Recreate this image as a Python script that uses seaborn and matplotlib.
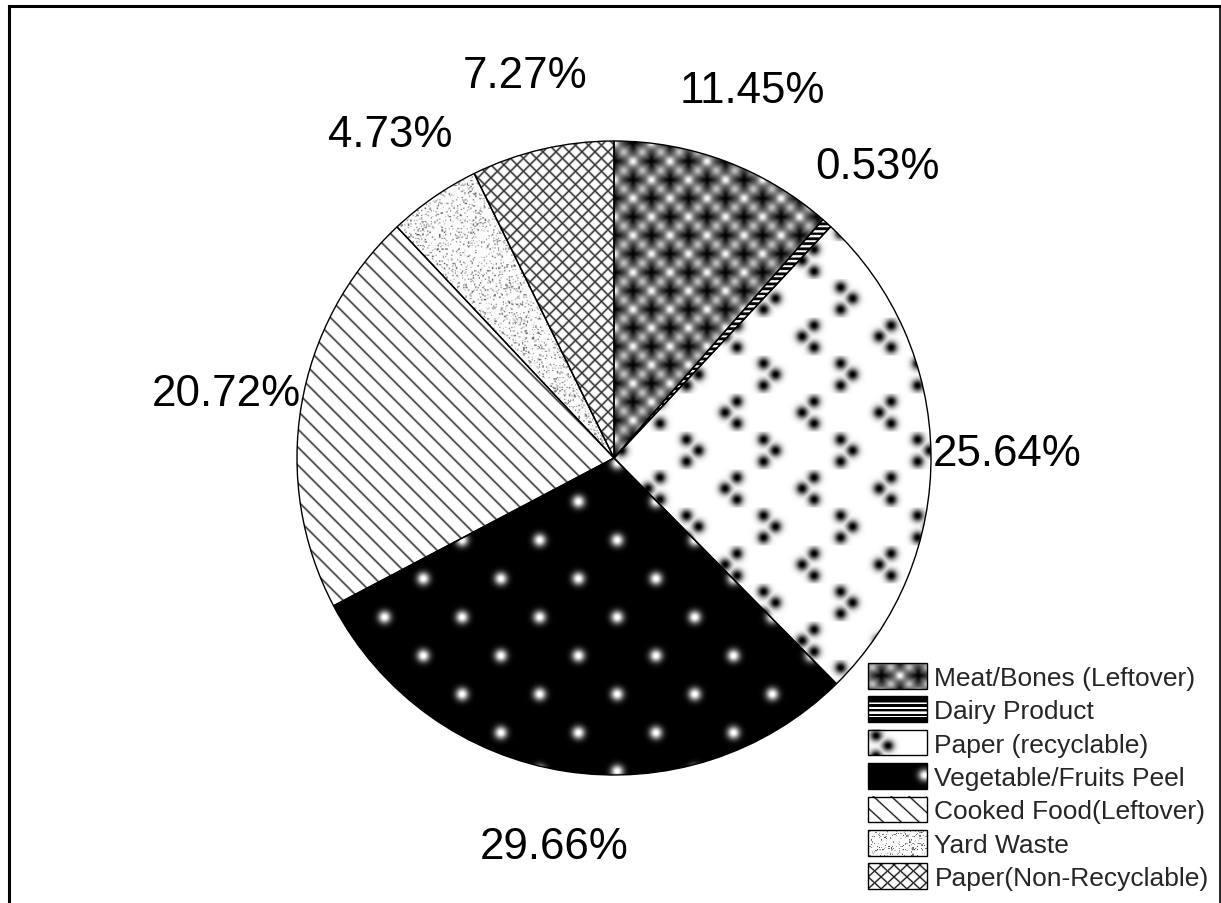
import numpy as np
import matplotlib
matplotlib.use("Agg")
import matplotlib.pyplot as plt
import seaborn as sns
from matplotlib.colors import Normalize
from matplotlib.image import BboxImage
from matplotlib.legend_handler import HandlerBase
from matplotlib.lines import Line2D
from matplotlib.patches import Rectangle
from matplotlib.transforms import Bbox, TransformedBbox

# ---- data -------------------------------------------------------------
categories = [
    "Meat/Bones (Leftover)",
    "Dairy Product",
    "Paper (recyclable)",
    "Vegetable/Fruits Peel",
    "Cooked Food(Leftover)",
    "Yard Waste",
    "Paper(Non-Recyclable)",
]
shares = [11.45, 0.53, 25.64, 29.66, 20.72, 4.73, 7.27]

# ---- style ------------------------------------------------------------
sns.set_theme(style="white")
plt.rcParams["font.family"] = ["Liberation Sans", "DejaVu Sans"]

W, H, DPI = 1221, 904, 100
R_PX = 317.0          # pie radius in pixels
CX, CY = 614.0, 459.0  # pie centre in pixels (from top-left)


# ---- grayscale fill textures, defined on pixel coordinates (y up) ------
def tex_meat(X, Y):
    a = 37.0
    def cross(dx, dy):
        h = np.exp(-(dx**2 / (2 * 6.5**2) + dy**2 / (2 * 2.6**2)))
        v = np.exp(-(dx**2 / (2 * 2.6**2) + dy**2 / (2 * 6.5**2)))
        return np.maximum(h, v)
    dx1 = (X + a / 2) % a - a / 2
    dy1 = (Y + a / 2) % a - a / 2
    dx2 = X % a - a / 2
    dy2 = Y % a - a / 2
    dark = np.maximum(cross(dx1, dy1), cross(dx2, dy2))
    # bright spots between the crosses
    ba = np.exp(-(((X % a) - a / 2) ** 2 + (((Y + a / 2) % a) - a / 2) ** 2) / (2 * 3.4**2))
    bb = np.exp(-((((X + a / 2) % a) - a / 2) ** 2 + ((Y % a) - a / 2) ** 2) / (2 * 3.4**2))
    bc = np.exp(-(((X % (a / 2)) - a / 4) ** 2 + ((Y % (a / 2)) - a / 4) ** 2) / (2 * 3.0**2))
    img = 0.4 + 0.6 * np.maximum(ba, bb) + 0.35 * bc
    img = img * (1 - 0.98 * dark)
    return np.clip(img, 0, 1)


def tex_dairy(X, Y):
    return np.where((Y % 5.0) < 2.2, 1.0, 0.0)


def tex_paper(X, Y, x0=232.0, y0=159.0):
    P, R = 77.0, 38.0
    yy = Y - y0
    row = np.floor(yy / R + 0.5)
    cy = row * R
    odd = (row.astype(int) % 2) != 0
    shift = np.where(odd, -P / 2, 0.0)
    u = ((X - x0 - shift + P / 2) % P) - P / 2
    v = yy - cy
    s = np.where(odd, -1.0, 1.0)
    blobs = [(-6.0, 11.0), (-6.0, -11.0), (6.0, 0.0)]
    d = np.zeros_like(X)
    for bx, by in blobs:
        g = np.exp(-((u - s * bx) ** 2 + (v - by) ** 2) / (2 * 4.2**2))
        d = np.maximum(d, g)
    return np.clip(1 - 1.05 * d, 0, 1)


def tex_veg(X, Y, x0=-36.0, y0=-121.0):
    P, R = 77.5, 38.5
    yy = Y - y0
    row = np.floor(yy / R + 0.5)
    v = yy - row * R
    shift = np.where((row.astype(int) % 2) != 0, P / 2, 0.0)
    u = ((X - x0 - shift + P / 2) % P) - P / 2
    return np.clip(1.05 * np.exp(-(u**2 + v**2) / (2 * 4.4**2)), 0, 1)


def tex_cooked(X, Y):
    S = 18.0
    d = (((X + Y) + S / 2) % S - S / 2) / np.sqrt(2)
    return 1 - 0.88 * np.exp(-d**2 / (2 * 0.6**2))


def tex_yard(X, Y):
    Xi, Yi = np.floor(X / 1.2), np.floor(Y / 1.2)
    h = np.sin(Xi * 12.9898 + Yi * 78.233) * 43758.5453
    h = h - np.floor(h)
    h2 = np.sin(Xi * 39.346 + Yi * 11.135) * 24634.6345
    h2 = h2 - np.floor(h2)
    return np.where(h > 0.86, 0.3 + 0.45 * h2, 0.985)


def tex_nonrec(X, Y):
    S = 13.0
    d1 = (((X + Y) + S / 2) % S - S / 2) / np.sqrt(2)
    d2 = (((X - Y) + S / 2) % S - S / 2) / np.sqrt(2)
    d = np.minimum(np.abs(d1), np.abs(d2))
    return 1 - 0.9 * np.exp(-d**2 / (2 * 0.6**2))


textures = [tex_meat, tex_dairy, tex_paper, tex_veg, tex_cooked, tex_yard, tex_nonrec]

# ---- figure -----------------------------------------------------------
fig = plt.figure(figsize=(W / DPI, H / DPI), dpi=DPI)
lim = 1.2
aw, ah = 2 * lim * R_PX / W, 2 * lim * R_PX / H
ax = fig.add_axes([CX / W - aw / 2, 1 - CY / H - ah / 2, aw, ah])

wedges, _, pct_texts = ax.pie(
    shares,
    labels=categories,
    labeldistance=None,
    startangle=90,
    counterclock=False,
    autopct="%.2f%%",
    pctdistance=1.24,
    wedgeprops=dict(facecolor="none", edgecolor="black", linewidth=1.0),
    textprops=dict(fontsize=31.6, color="black"),
)

# pattern fills clipped to each wedge
ext = 1.06
n = 1400
grid = np.linspace(-ext, ext, n) * R_PX
GX, GY = np.meshgrid(grid, grid)
for w, tex in zip(wedges, textures):
    im = ax.imshow(
        tex(GX, GY),
        extent=[-ext, ext, -ext, ext],
        origin="lower",
        cmap="gray",
        vmin=0,
        vmax=1,
        interpolation="antialiased",
        zorder=0.5,
    )
    im.set_clip_path(w)

ax.set_xlim(-lim, lim)
ax.set_ylim(-lim, lim)
ax.set_aspect("equal")
ax.axis("off")


# ---- legend with the same pattern swatches ----------------------------
class PatternHandler(HandlerBase):
    def __init__(self, swatch):
        super().__init__()
        self.swatch = swatch

    def create_artists(self, legend, orig_handle, xdescent, ydescent,
                       width, height, fontsize, trans):
        bb = TransformedBbox(Bbox.from_bounds(-xdescent, -ydescent, width, height), trans)
        img = BboxImage(bb, cmap="gray", norm=Normalize(0, 1), interpolation="antialiased")
        img.set_data(self.swatch)
        frame = Rectangle((-xdescent, -ydescent), width, height, fill=False,
                          edgecolor="black", linewidth=1.0, transform=trans)
        return [img, frame]


sw_w, sw_h = 59, 28
lx = np.linspace(0, sw_w, sw_w * 3)
ly = np.linspace(sw_h, 0, sw_h * 3)
LX, LY = np.meshgrid(lx, ly)
swatches = [
    tex_meat(LX + 5, LY + 4),
    np.where(np.abs(LY - sw_h / 2) < 8.5, tex_dairy(LX, LY + 1), 0.0),
    tex_paper(LX, LY, x0=14.0, y0=10.0),
    tex_veg(LX, LY, x0=57.0, y0=15.0),
    tex_cooked(LX, LY + 3),
    tex_yard(LX, LY),
    tex_nonrec(LX, LY),
]

ax.legend(
    wedges,
    categories,
    handler_map={w: PatternHandler(s) for w, s in zip(wedges, swatches)},
    loc="upper left",
    bbox_to_anchor=(868 / W, 1 - 664 / H),
    bbox_transform=fig.transFigure,
    frameon=False,
    borderpad=0,
    borderaxespad=0,
    handlelength=2.22,
    handleheight=1.12,
    handletextpad=0.3,
    labelspacing=0.25,
    fontsize=19.0,
)

# ---- outer border -----------------------------------------------------
fig.add_artist(Line2D([8.5 / W, 8.5 / W], [-0.01, 1 - 7 / H], transform=fig.transFigure,
                      color="black", linewidth=2.2, solid_capstyle="projecting"))
fig.add_artist(Line2D([8.5 / W, 1219.5 / W], [1 - 7 / H, 1 - 7 / H], transform=fig.transFigure,
                      color="black", linewidth=2.2, solid_capstyle="projecting"))
fig.add_artist(Line2D([1219.5 / W, 1219.5 / W], [-0.01, 1 - 7 / H], transform=fig.transFigure,
                      color="black", linewidth=1.2))

fig.savefig("out.png", dpi=DPI, facecolor="white")
